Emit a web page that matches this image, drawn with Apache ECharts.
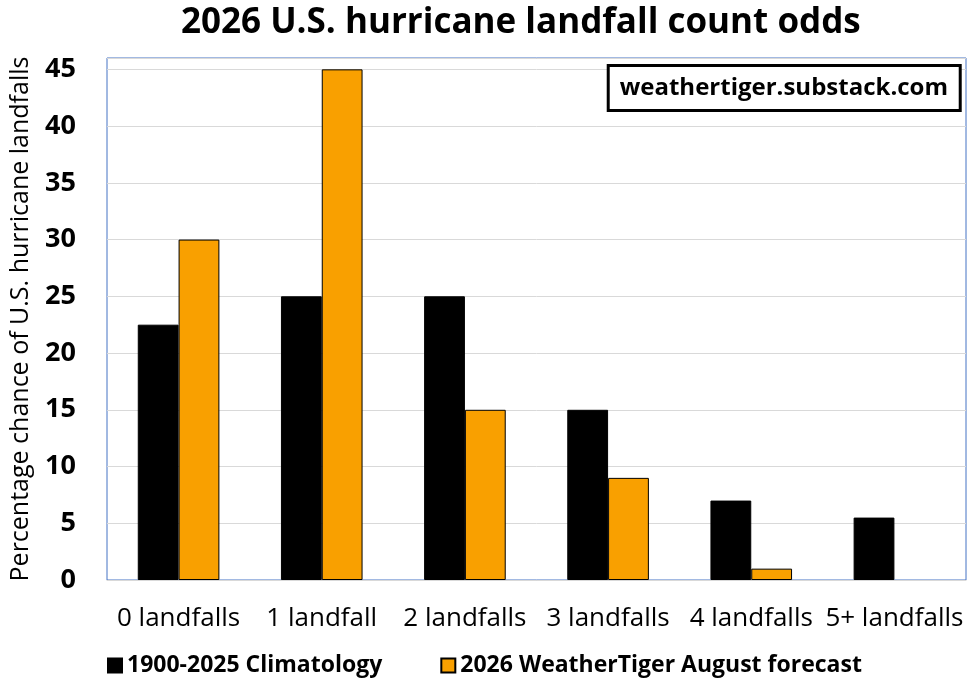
<!DOCTYPE html>
<html>
<head>
<meta charset="utf-8">
<script src="https://cdn.jsdelivr.net/npm/echarts@6/dist/echarts.min.js"></script>
<style>
  html, body { margin: 0; padding: 0; background: #fff; }
  #chart { width: 976px; height: 683px; }
</style>
</head>
<body>
<div id="chart"></div>
<script>
var categories = ['0 landfalls', '1 landfall', '2 landfalls', '3 landfalls', '4 landfalls', '5+ landfalls'];
var climatology = [22.5, 25, 25, 15, 7, 5.5];
var forecast = [30, 45, 15, 9, 1, 0];
var seriesNames = ['1900-2025 Climatology', '2026 WeatherTiger August forecast'];

var font = '"Open Sans", "Noto Sans", sans-serif';

// zero bars get no outline, so nothing shows on the baseline
function barData(values) {
    return values.map(function (v) {
        return v === 0 ? { value: v, itemStyle: { borderWidth: 0 } } : v;
    });
}

var chart = echarts.init(document.getElementById('chart'));

chart.setOption({
    backgroundColor: '#fff',
    animation: false,
    textStyle: { fontFamily: font },
    title: [{
        text: '2026 U.S. hurricane landfall count odds',
        left: 176,
        top: 1,
        textStyle: { fontSize: 35, fontWeight: 'bold', color: '#000', fontFamily: font }
    }, {
        text: 'weathertiger.substack.com',
        right: 16,
        top: 65,
        padding: [11, 12, 11, 12],
        borderColor: '#000',
        borderWidth: 3,
        backgroundColor: '#fff',
        textStyle: { fontSize: 24, fontWeight: 'bold', color: '#000', fontFamily: font }
    }],
    legend: {
        left: 102,
        top: 649,
        itemWidth: 14,
        itemHeight: 14,
        itemGap: 58,
        icon: 'rect',
        textStyle: { fontSize: 23, fontWeight: 'bold', color: '#000', fontFamily: font },
        data: seriesNames
    },
    grid: {
        left: 107,
        right: 10,
        top: 58,
        bottom: 103,
        show: true,
        borderColor: '#4472c4',
        borderWidth: 1
    },
    xAxis: {
        type: 'category',
        data: categories,
        axisTick: { show: false },
        axisLine: { lineStyle: { color: '#d9d9d9', width: 1 } },
        axisLabel: { interval: 0, fontSize: 26, color: '#000', margin: 26, fontFamily: font }
    },
    yAxis: {
        type: 'value',
        min: 0,
        max: 46,
        interval: 5,
        name: 'Percentage chance of U.S. hurricane landfalls',
        nameLocation: 'middle',
        nameGap: 74,
        nameTextStyle: { fontSize: 25, color: '#000', fontFamily: font },
        axisLine: { show: false },
        axisTick: { show: false },
        splitLine: { lineStyle: { color: '#d9d9d9', width: 1 } },
        axisLabel: {
            fontSize: 27,
            fontWeight: 'bold',
            color: '#000',
            margin: 31,
            fontFamily: font,
            formatter: function (v) { return v % 5 === 0 ? String(v) : ''; }
        }
    },
    series: [{
        name: seriesNames[0],
        type: 'bar',
        data: barData(climatology),
        barGap: '0%',
        barCategoryGap: '43%',
        itemStyle: { color: '#000', borderColor: '#000', borderWidth: 1 }
    }, {
        name: seriesNames[1],
        type: 'bar',
        data: barData(forecast),
        itemStyle: { color: '#f9a000', borderColor: '#000', borderWidth: 1 }
    }]
});
</script>
</body>
</html>
